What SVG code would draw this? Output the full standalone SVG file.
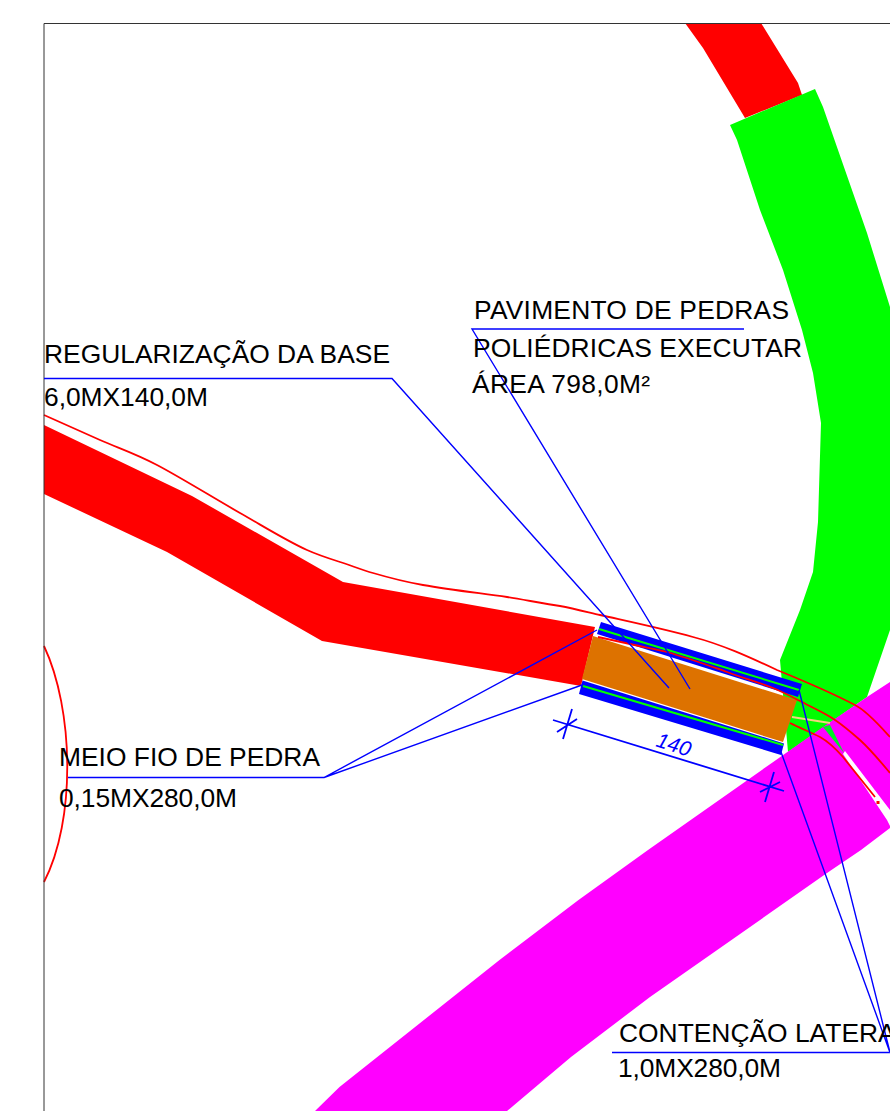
<svg xmlns="http://www.w3.org/2000/svg" width="890" height="1111" viewBox="0 0 890 1111">
<style>
.t{font-family:"Liberation Sans",Arial,sans-serif;font-size:26.4px;fill:#000}
.b{fill:none;stroke:#0000ff;stroke-width:1.4}
.r{fill:none;stroke:#ff0000;stroke-width:1.8}
</style>
<rect width="890" height="1111" fill="#fff"/>
<g id="roads">
<polygon fill="#ff0000" points="685,23 761,23 798,83 802,95 745,118 703,48"/>
<polygon fill="#ff0000" points="44,425 192,496 343,582 595,627 581,686 322,641 167,552 44,494"/>
<polygon fill="#00ff00" points="730,125 815,89 823,107 867,233 890,307 890,630 867,697 788,752 780,660 800,610 813,572 818,522 821,423 813,373 802,330 783,270 760,210 737,140"/>
<polygon fill="#ff00ff" points="315,1111 339.500,1087 499.500,960 578.500,900 648,850 823,727 867,697 890,682 890,828 861,850 827,873 650,997 571,1057 507,1111"/>
<polygon fill="#ffffff" points="843,754 845,751 890,810 890,826 887,820"/>
<polygon fill="#00ee22" points="823,727 830,725 844,753"/>
</g>
<g id="plan">
<polygon fill="#dd7200" points="593,636 797,700 783,742 582,679"/>
<polygon fill="#0000ff" points="601,622 802,684 798,697 597,634"/>
<polygon fill="#0000ff" points="582.500,680.500 784,743.500 781,755 579,694"/>
<path d="M599,629L799,690M583,686L783,745" fill="none" stroke="#00ff00" stroke-width="2"/>
<path d="M792,717L830,723" fill="none" stroke="#f8d080" stroke-width="2"/>
</g>
<g id="curves">
<path class="r" d="M44,415L100,440C118.800,448.300 133.700,452.800 157,465C180.300,477.200 215,498.800 240,513C265,527.200 287,541 307,550C318,555 329,558.500 340,562C351,565.500 362,570 373,573C390,578 406,582 423,585C451,590 479,593 507,597C525,600 547,604 560,606C573,608.500 587,612 600,615C631,622 662,628.500 693,637C722,644.500 749,657 777,670C804,681 830,692 855,705C867,711 880,726 890,737"/>
<path class="r" d="M598,637L630,644C643,647 655,649 667,652C688,658 707,665 727,672C743,678 758,682 773,688C783,692 792,697 802,702C813,708 825,713 835,720C844,726 852,733 860,740C871,750 880,761 890,773"/>
<path class="r" d="M790,723C800,728 810,732 820,737C829,742 836,749 843,757L875,797"/>
<rect x="876.500" y="801" width="3" height="3" fill="#ff0000"/>
<path class="r" d="M44,646C74,710 76,820 44,882"/>
<path d="M44,1111V23.500H890" fill="none" stroke="#333" stroke-width="1"/>
</g>
<g id="connectors">
<path class="b" d="M44,378.500H392L669,688"/>
<path class="b" d="M744,329H472L690,689"/>
<path class="b" d="M68,777.500H324L597,630M324,777.500L582,685"/>
<path class="b" d="M612,1052.500H890L781,752M890,1052.500L799,690"/>
<path class="b" style="stroke-width:1.8" d="M553,720L784,791M572,709L563,739M577,719L557,732M774,772L765,802M780,782L760,792"/>
</g>
<g id="labels">
<text class="t" x="44" y="363" textLength="346">REGULARIZAÇÃO DA BASE</text>
<text class="t" x="44" y="406" textLength="164">6,0MX140,0M</text>
<text class="t" x="474" y="319" textLength="315">PAVIMENTO DE PEDRAS</text>
<text class="t" x="473" y="357" textLength="329">POLIÉDRICAS EXECUTAR</text>
<text class="t" x="472" y="393" textLength="178">ÁREA 798,0M²</text>
<text class="t" x="59" y="766" textLength="261">MEIO FIO DE PEDRA</text>
<text class="t" x="59" y="807" textLength="178">0,15MX280,0M</text>
<text class="t" x="619" y="1042">CONTENÇÃO LATERAL</text>
<text class="t" x="618" y="1077" textLength="163">1,0MX280,0M</text>
<text transform="translate(655,746) rotate(18)" style="font-family:'Liberation Sans',sans-serif;font-size:21px;font-style:italic;fill:#0000ff">140</text>
</g>
</svg>
